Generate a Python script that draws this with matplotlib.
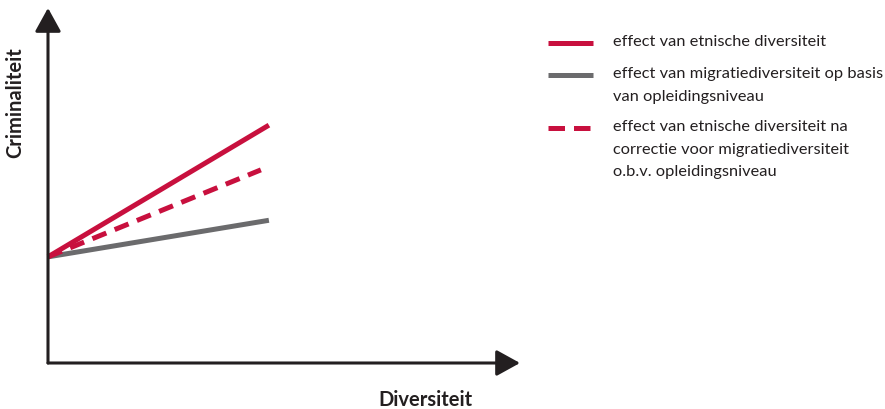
import matplotlib.pyplot as plt
from matplotlib.lines import Line2D

RED = "#C8103E"
GREY = "#6B6B6D"
INK = "#231F20"

# schematic values (axes run 0..10 on both directions)
x_line = [0, 4.68]
x_dash = [0, 4.51]
y_ethnic = [2.99, 6.70]
y_migration = [2.99, 4.02]
y_corrected = [2.99, 5.44]

legend_labels = [
    "effect van etnische diversiteit",
    "effect van migratiediversiteit op basis\nvan opleidingsniveau",
    "effect van etnische diversiteit na\ncorrectie voor migratiediversiteit\no.b.v. opleidingsniveau",
]
legend_colors = [RED, GREY, RED]
legend_styles = ["-", "-", "--"]

plt.rcParams['font.family'] = ['Lato', 'DejaVu Sans']

fig = plt.figure(figsize=(8.85, 4.09), dpi=100)
ax = fig.add_axes([48 / 885, 46 / 409, 472 / 885, 355 / 409])
ax.set_xlim(0, 10)
ax.set_ylim(0, 10)
ax.axis("off")

# axes with arrow heads
arrow = dict(arrowstyle="-|>,head_length=1.45,head_width=0.8", lw=2.2, color=INK,
             shrinkA=0, shrinkB=0)
ax.annotate("", xy=(1, 0), xytext=(0, 0), xycoords="axes fraction", arrowprops=arrow)
ax.annotate("", xy=(0, 1), xytext=(0, 0), xycoords="axes fraction", arrowprops=arrow)

ax.plot(x_line, y_migration, color=GREY, lw=3.6, solid_capstyle="butt", clip_on=False)
ax.plot(x_line, y_ethnic, color=RED, lw=3.6, solid_capstyle="butt", clip_on=False)
ax.plot(x_dash, y_corrected, color=RED, lw=3.6, dashes=(3, 1.8), dash_capstyle="butt",
        clip_on=False)

fig.text(15 / 885, 1 - 103 / 409, "Criminaliteit", rotation=90, ha="center", va="center",
         fontsize=14.5, fontweight="bold", color=INK)
fig.text(425 / 885, 1 - 400 / 409, "Diversiteit", ha="center", va="center",
         fontsize=14.5, fontweight="bold", color=INK)

# legend drawn by hand so the key sits on the first text line
row_y = [43, 75, 128]
for lab, col, ls, yy in zip(legend_labels, legend_colors, legend_styles, row_y):
    yf = 1 - yy / 409
    if ls == "--":
        fig.add_artist(Line2D([548 / 885, 593 / 885], [yf, yf], color=col, lw=3.6,
                              dashes=(3.3, 1.8), dash_capstyle="butt"))
    else:
        fig.add_artist(Line2D([548 / 885, 593 / 885], [yf, yf], color=col, lw=3.6,
                              solid_capstyle="butt"))
    fig.text(613 / 885, yf + 8 / 409, lab, ha="left", va="top", fontsize=11.8,
             color=INK, linespacing=1.78)

fig.savefig("out.png", dpi=100)
